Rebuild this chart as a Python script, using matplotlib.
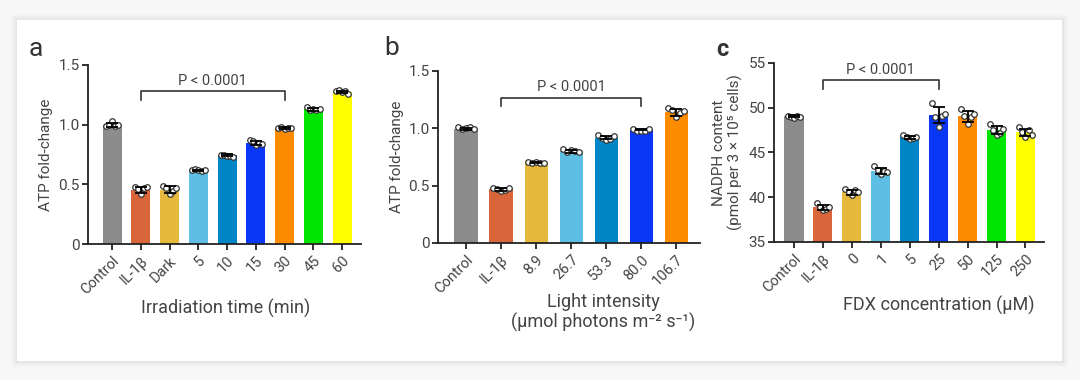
import numpy as np
import matplotlib
matplotlib.use("Agg")
import matplotlib.pyplot as plt
from matplotlib.patches import Rectangle

plt.rcParams['font.family'] = ['Roboto', 'DejaVu Sans']

# ---------------- data ----------------
a_labels = ["Control", "IL-1β", "Dark", "5", "10", "15", "30", "45", "60"]
a_means = [1.00, 0.455, 0.455, 0.616, 0.742, 0.848, 0.970, 1.129, 1.274]
a_points = [
    [0.99, 1.00, 1.03, 0.99, 1.00],
    [0.48, 0.46, 0.42, 0.47, 0.48],
    [0.49, 0.47, 0.42, 0.44, 0.47],
    [0.62, 0.63, 0.62, 0.61, 0.62],
    [0.75, 0.75, 0.74, 0.74, 0.73],
    [0.87, 0.86, 0.83, 0.85, 0.84],
    [0.97, 0.98, 0.96, 0.97, 0.97],
    [1.15, 1.12, 1.13, 1.12, 1.13],
    [1.28, 1.29, 1.27, 1.28, 1.26],
]
a_xlabel = "Irradiation time (min)"

b_labels = ["Control", "IL-1β", "8.9", "26.7", "53.3", "80.0", "106.7"]
b_means = [0.997, 0.468, 0.703, 0.80, 0.919, 0.988, 1.14]
b_points = [
    [1.01, 0.99, 1.00, 1.01, 0.99],
    [0.48, 0.47, 0.45, 0.46, 0.48],
    [0.71, 0.70, 0.71, 0.70, 0.70],
    [0.82, 0.79, 0.81, 0.80, 0.79],
    [0.94, 0.92, 0.90, 0.91, 0.93],
    [0.99, 0.98, 0.98, 0.98, 0.99],
    [1.18, 1.16, 1.10, 1.13, 1.15],
]
b_xlabel = "Light intensity\n(µmol photons m⁻² s⁻¹)"

c_labels = ["Control", "IL-1β", "0", "1", "5", "25", "50", "125", "250"]
c_means = [49.06, 38.86, 40.57, 42.98, 46.69, 49.21, 49.06, 47.5, 47.24]
c_points = [
    [49.1, 49.0, 48.8, 49.1, 49.0],
    [39.4, 38.9, 38.6, 38.7, 38.9],
    [40.9, 40.6, 40.2, 40.8, 40.6],
    [43.5, 43.0, 42.6, 42.9, 42.8],
    [47.0, 46.7, 46.5, 46.6, 46.7],
    [50.5, 49.0, 47.9, 49.1, 49.3],
    [49.9, 49.1, 48.2, 49.0, 49.3],
    [48.2, 47.5, 47.0, 47.2, 47.6],
    [47.8, 47.3, 46.7, 47.5, 47.0],
]
c_xlabel = "FDX concentration (µM)"

# ---------------- style ----------------
GRAY = "#8c8c8c"; RED = "#d9663a"; GOLD = "#e6b93c"; LBLUE = "#5fbee3"
TEAL = "#0086c6"; BLUE = "#0a37f5"; ORANGE = "#ff8c00"; GREEN = "#00e600"; YELLOW = "#ffff00"
a_colors = [GRAY, RED, GOLD, LBLUE, TEAL, BLUE, ORANGE, GREEN, YELLOW]
b_colors = [GRAY, RED, GOLD, LBLUE, TEAL, BLUE, ORANGE]
c_colors = [GRAY, RED, GOLD, LBLUE, TEAL, BLUE, ORANGE, GREEN, YELLOW]
TXT = "#444444"
AX = "#222222"
offsets = np.array([-0.22, -0.11, 0.0, 0.11, 0.22])

W, H = 1080, 380
fig = plt.figure(figsize=(W / 100, H / 100), dpi=100)
fig.patch.set_facecolor("#f7f7f7")

# card with soft shadow
for i, al in enumerate([0.012, 0.015, 0.02, 0.025]):
    pad = (4 - i) * 1.5
    fig.patches.append(Rectangle(((17 - pad) / W, 1 - (361 + pad) / H),
                                 (1045 + 2 * pad) / W, (341 + 2 * pad) / H,
                                 transform=fig.transFigure, facecolor="black",
                                 edgecolor="none", alpha=al, zorder=-3))
fig.patches.append(Rectangle((17 / W, 1 - 361 / H), 1045 / W, 341 / H,
                             transform=fig.transFigure, facecolor="white",
                             edgecolor="none", zorder=-2))


def px_axes(l, t, r, b):
    return fig.add_axes([l / W, 1 - b / H, (r - l) / W, (b - t) / H])


def panel(ax, labels, means, points, colors, ylim, yticks, yticklabels, xlim):
    x = np.arange(len(labels))
    ax.bar(x, [m - ylim[0] for m in means], bottom=ylim[0], width=0.66,
           color=colors, edgecolor="none", zorder=2)
    for xi, pts, m in zip(x, points, means):
        sd = np.std(pts, ddof=1)
        ax.plot(xi + offsets, pts, "o", ms=4.0, mfc="white", mec="#333333",
                mew=0.9, zorder=3, clip_on=False)
        ax.errorbar(xi, m, yerr=sd, fmt="none", ecolor="black", elinewidth=1.3,
                    capsize=4.5, capthick=1.3, zorder=4)
    ax.set_xlim(*xlim)
    ax.set_ylim(*ylim)
    ax.set_yticks(yticks)
    ax.set_yticklabels(yticklabels)
    ax.set_xticks(x)
    ax.set_xticklabels(labels, rotation=45, ha="right", rotation_mode="anchor")
    for s in ["top", "right"]:
        ax.spines[s].set_visible(False)
    for s in ["left", "bottom"]:
        ax.spines[s].set_linewidth(1.3)
        ax.spines[s].set_color(AX)
    ax.tick_params(axis="both", colors=AX, labelcolor=TXT, labelsize=10.5,
                   width=1.3, length=4)
    ax.tick_params(axis="y", labelsize=11, pad=2)
    ax.tick_params(axis="x", pad=3)
    ax.set_facecolor("none")


def bracket(ax, x0, x1, y, ydrop, ytext):
    ax.plot([x0, x0, x1, x1], [ydrop, y, y, ydrop], color="#333333", lw=1.2,
            zorder=5, clip_on=False)
    ax.text((x0 + x1) / 2, ytext, "P < 0.0001", ha="center", va="center",
            fontsize=10.5, color=TXT)


# panel a
axa = px_axes(88, 65, 361, 244)
panel(axa, a_labels, a_means, a_points, a_colors, (0, 1.5), [0, 0.5, 1.0, 1.5],
      ["0", "0.5", "1.0", "1.5"], (-0.84, 8.66))
axa.set_ylabel("ATP fold-change", fontsize=11, color=TXT)
axa.yaxis.set_label_coords(-0.128, 0.5)
axa.set_xlabel(a_xlabel, fontsize=13, color=TXT)
axa.xaxis.set_label_coords(0.505, -0.307)
bracket(axa, 1, 6, 1.28, 1.205, 1.37)

# panel b
axb = px_axes(438, 71, 700, 243)
panel(axb, b_labels, b_means, b_points, b_colors, (0, 1.5), [0, 0.5, 1.0, 1.5],
      ["0", "0.5", "1.0", "1.5"], (-0.8, 6.68))
axb.set_ylabel("ATP fold-change", fontsize=11, color=TXT)
axb.yaxis.set_label_coords(-0.13, 0.5)
axb.set_xlabel(b_xlabel, fontsize=13, color=TXT, linespacing=1.15)
axb.xaxis.set_label_coords(0.63, -0.29)
axb.xaxis.label.set_va("top")
bracket(axb, 1, 5, 1.264, 1.194, 1.36)

# panel c
axc = px_axes(774, 63, 1044, 242)
panel(axc, c_labels, c_means, c_points, c_colors, (35, 55), [35, 40, 45, 50, 55],
      ["35", "40", "45", "50", "55"], (-0.69, 8.64))
axc.set_ylabel("NADPH content\n(pmol per 3 × 10⁵ cells)", fontsize=11, color=TXT,
               linespacing=1.15)
axc.yaxis.set_label_coords(-0.115, 0.5)
axc.set_xlabel(c_xlabel, fontsize=13, color=TXT)
axc.xaxis.set_label_coords(0.61, -0.30)
bracket(axc, 1, 5, 53.1, 52.1, 54.2)

# panel letters
fig.text(29 / W, 1 - 49 / H, "a", fontsize=19, color="#333333", va="center")
fig.text(384 / W, 1 - 48 / H, "b", fontsize=19, color="#333333", va="center")
fig.text(716 / W, 1 - 49 / H, "c", fontsize=17, color="#333333", va="center",
         fontweight="bold")

fig.savefig("out.png", dpi=100, facecolor=fig.get_facecolor())
